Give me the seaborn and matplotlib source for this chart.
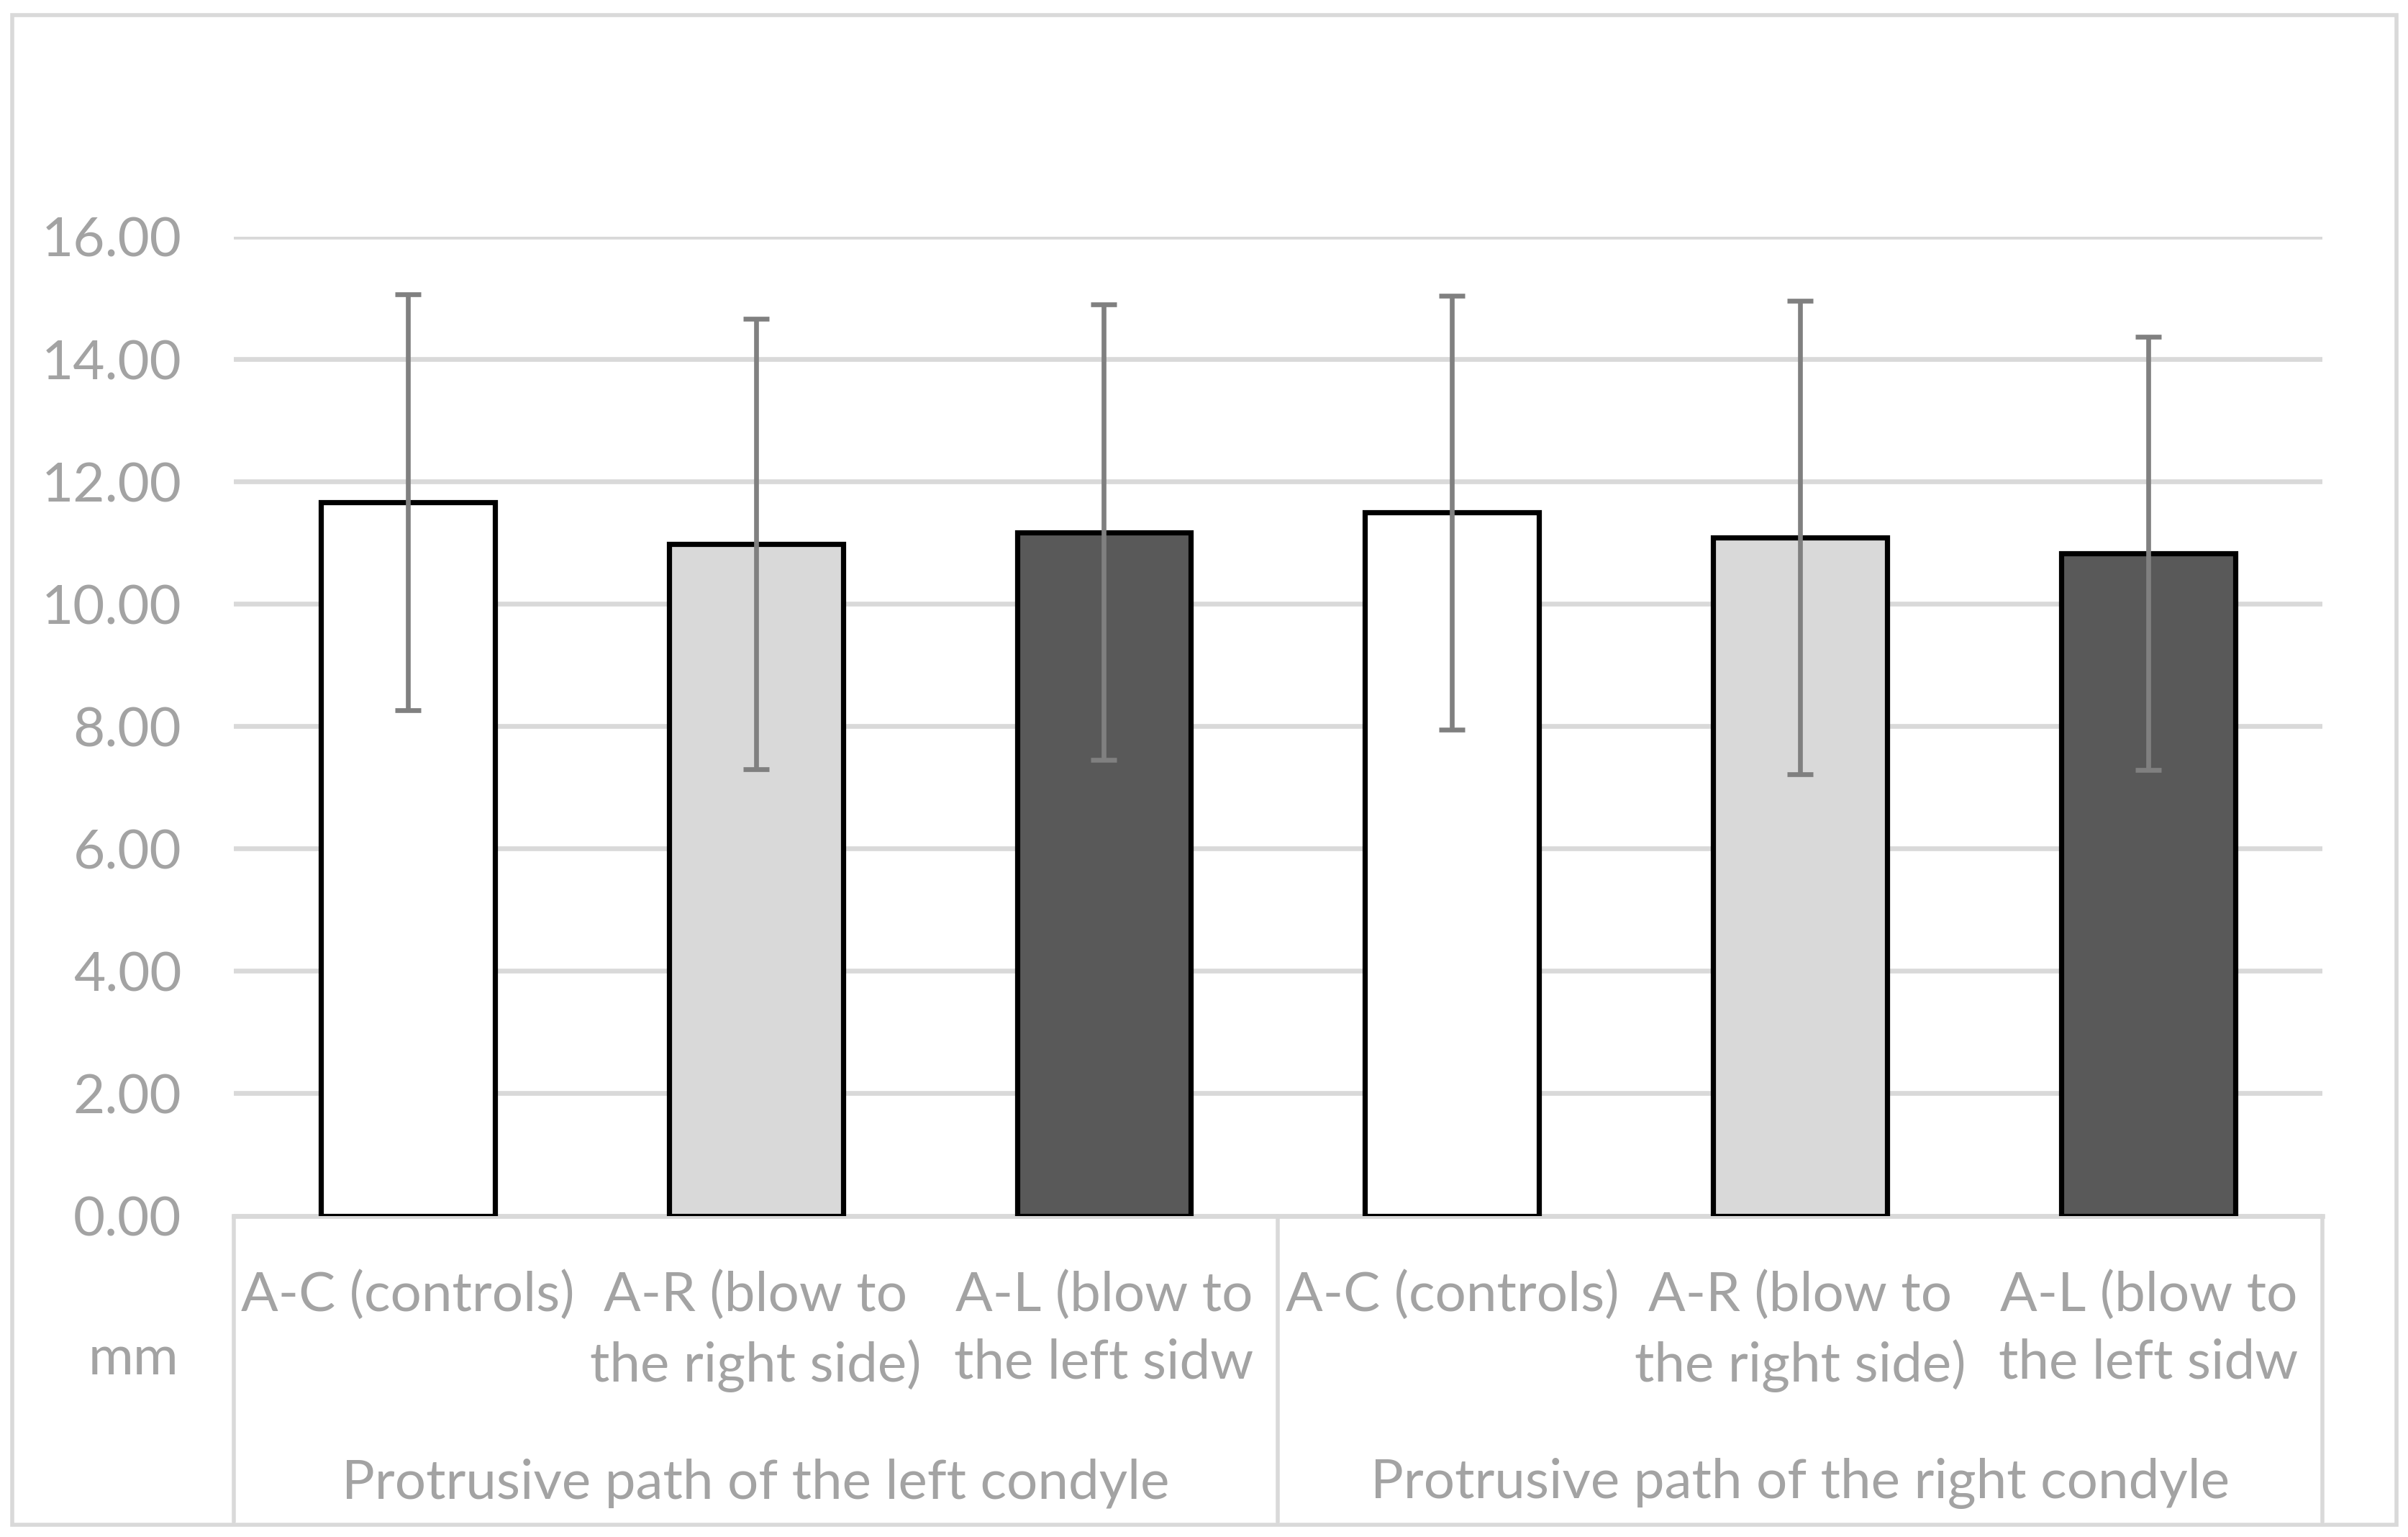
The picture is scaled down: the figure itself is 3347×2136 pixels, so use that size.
import numpy as np
import pandas as pd
import matplotlib
matplotlib.use("Agg")
import matplotlib.pyplot as plt
from matplotlib.patches import Rectangle
from matplotlib.lines import Line2D
import seaborn as sns

# data (mm)
groups = ["Protrusive path of the left condyle", "Protrusive path of the right condyle"]
subgroups = ["A-C (controls)", "A-R (blow to\nthe right side)", "A-L (blow to\nthe left sidw"]
left_means = [11.66, 10.98, 11.17]
left_sd = [3.40, 3.68, 3.72]
right_means = [11.49, 11.08, 10.82]
right_sd = [3.55, 3.87, 3.54]
bar_colors = ["#FFFFFF", "#D9D9D9", "#595959"]
y_ticks = [0, 2, 4, 6, 8, 10, 12, 14, 16]

df = pd.DataFrame({
    "group": [groups[0]] * 3 + [groups[1]] * 3,
    "sub": subgroups * 2,
    "mean": left_means + right_means,
    "sd": left_sd + right_sd,
})
df["key"] = [f"{i}|{s}" for i, s in enumerate(df["sub"])]
palette = dict(zip(df["key"], bar_colors * 2))

sns.set_theme(style="white")
plt.rcParams["font.family"] = ["Lato", "DejaVu Sans"]
txt = "#A3A3A3"
grid_c = "#D9D9D9"
fs = 27.5

fig = plt.figure(figsize=(16.74, 10.68), dpi=200)
ax = fig.add_axes([152 / 1568, 1 - 791 / 1000, (1512 - 152) / 1568, (791 - 154) / 1000])

sns.barplot(data=df, x="key", y="mean", hue="key", palette=palette, order=list(df["key"]),
            width=0.5, edgecolor="black", linewidth=2.6, legend=False, ax=ax, zorder=3)
ax.errorbar(np.arange(len(df)), df["mean"], yerr=df["sd"], fmt="none", ecolor="#808080",
            elinewidth=2.4, capsize=6.5, capthick=2.4, zorder=4)

ax.set_ylim(0, 16)
ax.set_xlim(-0.5, 5.5)
ax.set_yticks(y_ticks)
ax.set_yticklabels([f"{v:.2f}" for v in y_ticks], color=txt, fontsize=fs)
ax.yaxis.grid(True, color=grid_c, linewidth=2.4, zorder=0)
ax.set_axisbelow(True)
ax.set_xticks(range(len(df)))
ax.set_xticklabels(df["sub"], color=txt, fontsize=fs, linespacing=1.45)
ax.tick_params(axis="both", length=0)
ax.tick_params(axis="y", pad=26)
ax.tick_params(axis="x", pad=27)
ax.set_xlabel("")
ax.set_ylabel("")
for s in ["top", "left", "right"]:
    ax.spines[s].set_visible(False)
ax.spines["bottom"].set_color(grid_c)
ax.spines["bottom"].set_linewidth(2.4)

# multi-level category box
trans = ax.get_xaxis_transform()
y_low = -(990 - 791) / (791 - 154)
for xs in [-0.5, 2.5, 5.5]:
    ax.add_line(Line2D([xs, xs], [0, y_low], transform=trans, color=grid_c,
                       linewidth=2.0, clip_on=False))
for i, g in enumerate(groups):
    ax.text(1 + 3 * i, -(965 - 791) / (791 - 154), g, transform=trans, ha="center",
            va="center", color=txt, fontsize=fs)

fig.text(87 / 1568, 1 - 884 / 1000, "mm", ha="center", va="center", color=txt, fontsize=fs)

# chart frame
fig.patches.append(Rectangle((8 / 1568, 1 - 992 / 1000), (1560 - 8) / 1568, (992 - 10) / 1000,
                             transform=fig.transFigure, fill=False, edgecolor=grid_c,
                             linewidth=2.0))

fig.savefig("out.png", dpi=200, facecolor="white")
